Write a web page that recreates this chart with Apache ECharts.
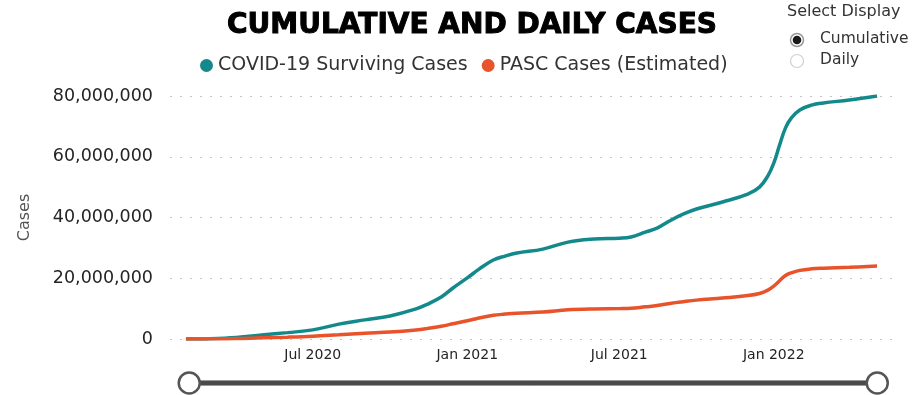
<!DOCTYPE html>
<html>
<head>
<meta charset="utf-8">
<script src="https://cdn.jsdelivr.net/npm/echarts@6/dist/echarts.min.js"></script>
<style>
  html, body { margin: 0; padding: 0; background: #fff; }
  #chart { width: 912px; height: 395px; }
</style>
</head>
<body>
<div id="chart"></div>
<script>
// 日期
const dates = [
  '2020-02-01', '2020-03-01', '2020-04-01', '2020-05-01', '2020-06-01', '2020-07-01',
  '2020-08-01', '2020-09-01', '2020-10-01', '2020-11-01', '2020-11-15', '2020-12-01',
  '2020-12-15', '2021-01-01', '2021-01-15', '2021-02-01', '2021-02-15', '2021-03-01',
  '2021-04-01', '2021-05-01', '2021-06-01', '2021-07-01', '2021-07-15', '2021-08-01',
  '2021-08-15', '2021-09-01', '2021-09-15', '2021-10-01', '2021-11-01', '2021-12-01',
  '2021-12-15', '2021-12-25', '2022-01-01', '2022-01-08', '2022-01-15', '2022-01-22',
  '2022-02-01', '2022-02-15', '2022-03-01', '2022-04-01', '2022-05-04'
]
// 单位：百万
const surviving = [
  0, 0.1, 0.5, 1.3, 2.1, 3.0,
  4.9, 6.3, 7.6, 9.9, 11.5, 13.8,
  16.8, 20.1, 23.0, 26.0, 27.3, 28.3,
  29.6, 31.9, 32.9, 33.2, 33.6, 35.2,
  36.5, 39.2, 41.1, 42.8, 45.1, 47.7,
  50.0, 53.7, 57.9, 63.9, 69.5, 72.8,
  75.4, 77.0, 77.7, 78.7, 80.0
]
const pasc = [
  0, 0.05, 0.15, 0.4, 0.6, 0.9,
  1.4, 1.9, 2.3, 3.0, 3.5, 4.2,
  5.0, 6.0, 6.9, 7.8, 8.2, 8.5,
  8.9, 9.6, 9.9, 10.0, 10.1, 10.6,
  11.0, 11.8, 12.3, 12.8, 13.5, 14.3,
  15.0, 16.1, 17.4, 19.2, 20.9, 21.8,
  22.6, 23.1, 23.3, 23.6, 24.0
]
const xTicks = ['2020-07-01', '2021-01-01', '2021-07-01', '2022-01-01']

const months = ['Jan', 'Feb', 'Mar', 'Apr', 'May', 'Jun', 'Jul', 'Aug', 'Sep', 'Oct', 'Nov', 'Dec']
const font = 'DejaVu Sans'
const teal = '#14898c'
const red = '#e8532b'
const toTime = d => Date.UTC(+d.slice(0, 4), +d.slice(5, 7) - 1, +d.slice(8, 10))

const myChart = echarts.init(document.querySelector('#chart'))
const option = {
  animation: false,
  textStyle: { fontFamily: font },
  title: {
    text: 'CUMULATIVE AND DAILY CASES',
    left: 467,
    textAlign: 'center',
    top: 7,
    textStyle: {
      fontFamily: font,
      fontWeight: 'bold',
      fontSize: 28,
      color: '#000',
      // 描边加粗，接近原图的粗黑体
      textBorderColor: '#000',
      textBorderWidth: 1,
    },
  },
  legend: {
    left: 195,
    top: 51,
    icon: 'circle',
    itemWidth: 13,
    itemHeight: 13,
    itemGap: 14,
    textStyle: { fontFamily: font, fontSize: 19, color: '#333' },
    data: ['COVID-19 Surviving Cases', 'PASC Cases (Estimated)'],
  },
  grid: { left: 170, right: 19, top: 96, bottom: 56 },
  xAxis: {
    // 用数值轴承载时间戳，方便自定义刻度
    type: 'value',
    min: toTime('2020-01-13'),
    max: toTime('2022-05-23'),
    axisLine: { show: false },
    axisTick: { show: false },
    splitLine: { show: false },
    axisLabel: {
      customValues: xTicks.map(toTime),
      margin: 9,
      fontSize: 14,
      color: '#252423',
      formatter: v => {
        const d = new Date(v)
        return months[d.getUTCMonth()] + ' ' + d.getUTCFullYear()
      },
    },
  },
  yAxis: {
    type: 'value',
    min: 0,
    max: 80000000,
    interval: 20000000,
    name: 'Cases',
    nameLocation: 'middle',
    nameGap: 137,
    nameRotate: 90,
    nameTextStyle: { fontFamily: font, fontSize: 16, color: '#555' },
    axisLine: { show: false },
    axisTick: { show: false },
    axisLabel: {
      margin: 17,
      fontSize: 17.5,
      color: '#252423',
      formatter: v => v.toLocaleString('en-US'),
    },
    splitLine: { lineStyle: { type: [2, 8], color: '#c4c4c4', width: 1 } },
  },
  dataZoom: [
    {
      type: 'slider',
      xAxisIndex: 0,
      filterMode: 'none',
      start: 0,
      end: 100,
      left: 186,
      right: 36,
      bottom: 9,
      height: 6,
      showDetail: false,
      showDataShadow: false,
      brushSelect: false,
      moveHandleSize: 0,
      borderColor: '#9a9a9a',
      backgroundColor: '#4a4a4a',
      fillerColor: '#4a4a4a',
      handleIcon: 'circle',
      handleSize: 21,
      handleStyle: { color: '#fff', borderColor: '#555', borderWidth: 2.5 },
    },
  ],
  series: [
    {
      name: 'COVID-19 Surviving Cases',
      type: 'line',
      data: dates.map((d, i) => [toTime(d), surviving[i] * 1e6]),
      smooth: 0.4,
      showSymbol: false,
      color: teal,
      lineStyle: { color: teal, width: 3.5 },
    },
    {
      name: 'PASC Cases (Estimated)',
      type: 'line',
      data: dates.map((d, i) => [toTime(d), pasc[i] * 1e6]),
      smooth: 0.4,
      showSymbol: false,
      color: red,
      lineStyle: { color: red, width: 3.5 },
    },
  ],
  // 右上角显示选择
  graphic: [
    { type: 'text', left: 787, top: 4, style: { text: 'Select Display', font: '16px "DejaVu Sans"', fill: '#333' } },
    { type: 'circle', shape: { cx: 797, cy: 40, r: 6.5 }, style: { fill: '#fff', stroke: '#999', lineWidth: 1.5 } },
    { type: 'circle', shape: { cx: 797, cy: 40, r: 4.3 }, style: { fill: '#1a1a1a' } },
    { type: 'text', left: 820, top: 31, style: { text: 'Cumulative', font: '15.5px "DejaVu Sans"', fill: '#333' } },
    { type: 'circle', shape: { cx: 797, cy: 61, r: 6.5 }, style: { fill: '#fff', stroke: '#d0d0d0', lineWidth: 1.2 } },
    { type: 'text', left: 820, top: 52, style: { text: 'Daily', font: '15.5px "DejaVu Sans"', fill: '#333' } },
  ],
}
myChart.setOption(option)
</script>
</body>
</html>
